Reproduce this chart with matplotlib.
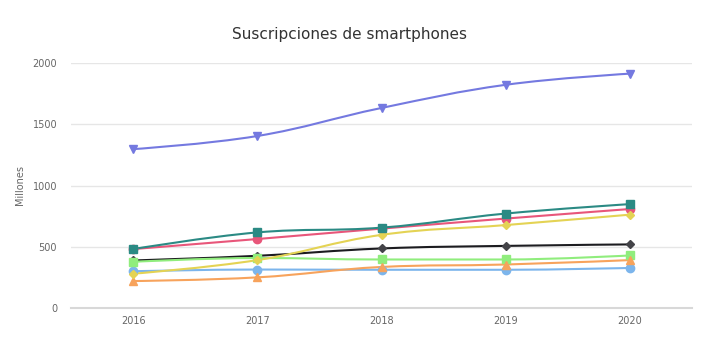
import matplotlib.pyplot as plt
from matplotlib.path import Path
from matplotlib.patches import PathPatch

years = ['2016', '2017', '2018', '2019', '2020']

# values in millions
s_blue = [300, 314, 312, 312, 327]
s_dark = [388, 426, 486, 507, 519]
s_green = [377, 408, 396, 396, 429]
s_orange = [220, 250, 335, 355, 391]
s_purple = [1297, 1404, 1633, 1822, 1913]
s_pink = [481, 563, 648, 730, 808]
s_yellow = [280, 391, 597, 677, 762]
s_teal = [481, 617, 656, 771, 848]

series = [
	(s_blue, '#7cb5ec', '#7cb5ec', 'o'),
	(s_dark, '#1c1c20', '#434348', 'D'),
	(s_green, '#90ed7d', '#90ed7d', 's'),
	(s_orange, '#f7a35c', '#f7a35c', '^'),
	(s_purple, '#7479e0', '#7479e0', 'v'),
	(s_pink, '#e8567a', '#e8567a', 'o'),
	(s_yellow, '#e4d354', '#e4d354', 'D'),
	(s_teal, '#2b8a84', '#2b8a84', 's'),
]


def spline_path(xs, ys):
	# highcharts-style spline control points
	sm, den = 1.5, 2.5
	n = len(xs)
	left = [None] * n
	right = [None] * n
	for i in range(1, n - 1):
		px, py = xs[i], ys[i]
		lx, ly = xs[i - 1], ys[i - 1]
		nx, ny = xs[i + 1], ys[i + 1]
		lcx, lcy = (sm * px + lx) / den, (sm * py + ly) / den
		rcx, rcy = (sm * px + nx) / den, (sm * py + ny) / den
		corr = 0
		if rcx != lcx:
			corr = (rcy - lcy) * (rcx - px) / (rcx - lcx) + py - rcy
		lcy += corr
		rcy += corr
		if lcy > ly and lcy > py:
			lcy = max(ly, py)
			rcy = 2 * py - lcy
		elif lcy < ly and lcy < py:
			lcy = min(ly, py)
			rcy = 2 * py - lcy
		if rcy > ny and rcy > py:
			rcy = max(ny, py)
			lcy = 2 * py - rcy
		elif rcy < ny and rcy < py:
			rcy = min(ny, py)
			lcy = 2 * py - rcy
		left[i] = (lcx, lcy)
		right[i] = (rcx, rcy)
	verts = [(xs[0], ys[0])]
	codes = [Path.MOVETO]
	for i in range(1, n):
		c1 = right[i - 1] or (xs[i - 1], ys[i - 1])
		c2 = left[i] or (xs[i], ys[i])
		verts += [c1, c2, (xs[i], ys[i])]
		codes += [Path.CURVE4] * 3
	return Path(verts, codes)


fig = plt.figure(figsize=(7.2, 3.4), dpi=100)
ax = fig.add_axes([71 / 720, 1 - 308 / 340, (692 - 71) / 720, (308 - 63) / 340])

x = list(range(len(years)))
for vals, lc, mc, m in series:
	ax.add_patch(PathPatch(spline_path(x, vals), fill=False, edgecolor=lc, lw=1.5, zorder=3))
	ax.plot(x, vals, ls='none', marker=m, ms=6 if m != 'D' else 4.5,
			mfc=mc, mec=mc, zorder=4)

ax.set_xlim(-0.5, 4.5)
ax.set_ylim(0, 2000)
ax.set_yticks([0, 500, 1000, 1500, 2000])
ax.set_xticks(x)
ax.set_xticklabels(years)
ax.grid(True, axis='y', color='#e6e6e6', lw=1)
ax.set_axisbelow(True)
for s in ['left', 'right', 'top']:
	ax.spines[s].set_visible(False)
ax.spines['bottom'].set_color('#d8d8d8')
ax.spines['bottom'].set_linewidth(1.5)
ax.tick_params(axis='y', length=0, pad=10, labelsize=7, labelcolor='#666666')
ax.tick_params(axis='x', length=0, pad=6, labelsize=7, labelcolor='#666666')

fig.text(20 / 720, 1 - 185 / 340, 'Millones', rotation=90, ha='center', va='center',
		 fontsize=7, color='#666666')
fig.text(350 / 720, 1 - 34 / 340, 'Suscripciones de smartphones', ha='center', va='center',
		 fontsize=11, color='#333333')

fig.savefig('out.png', dpi=100, facecolor='white')
